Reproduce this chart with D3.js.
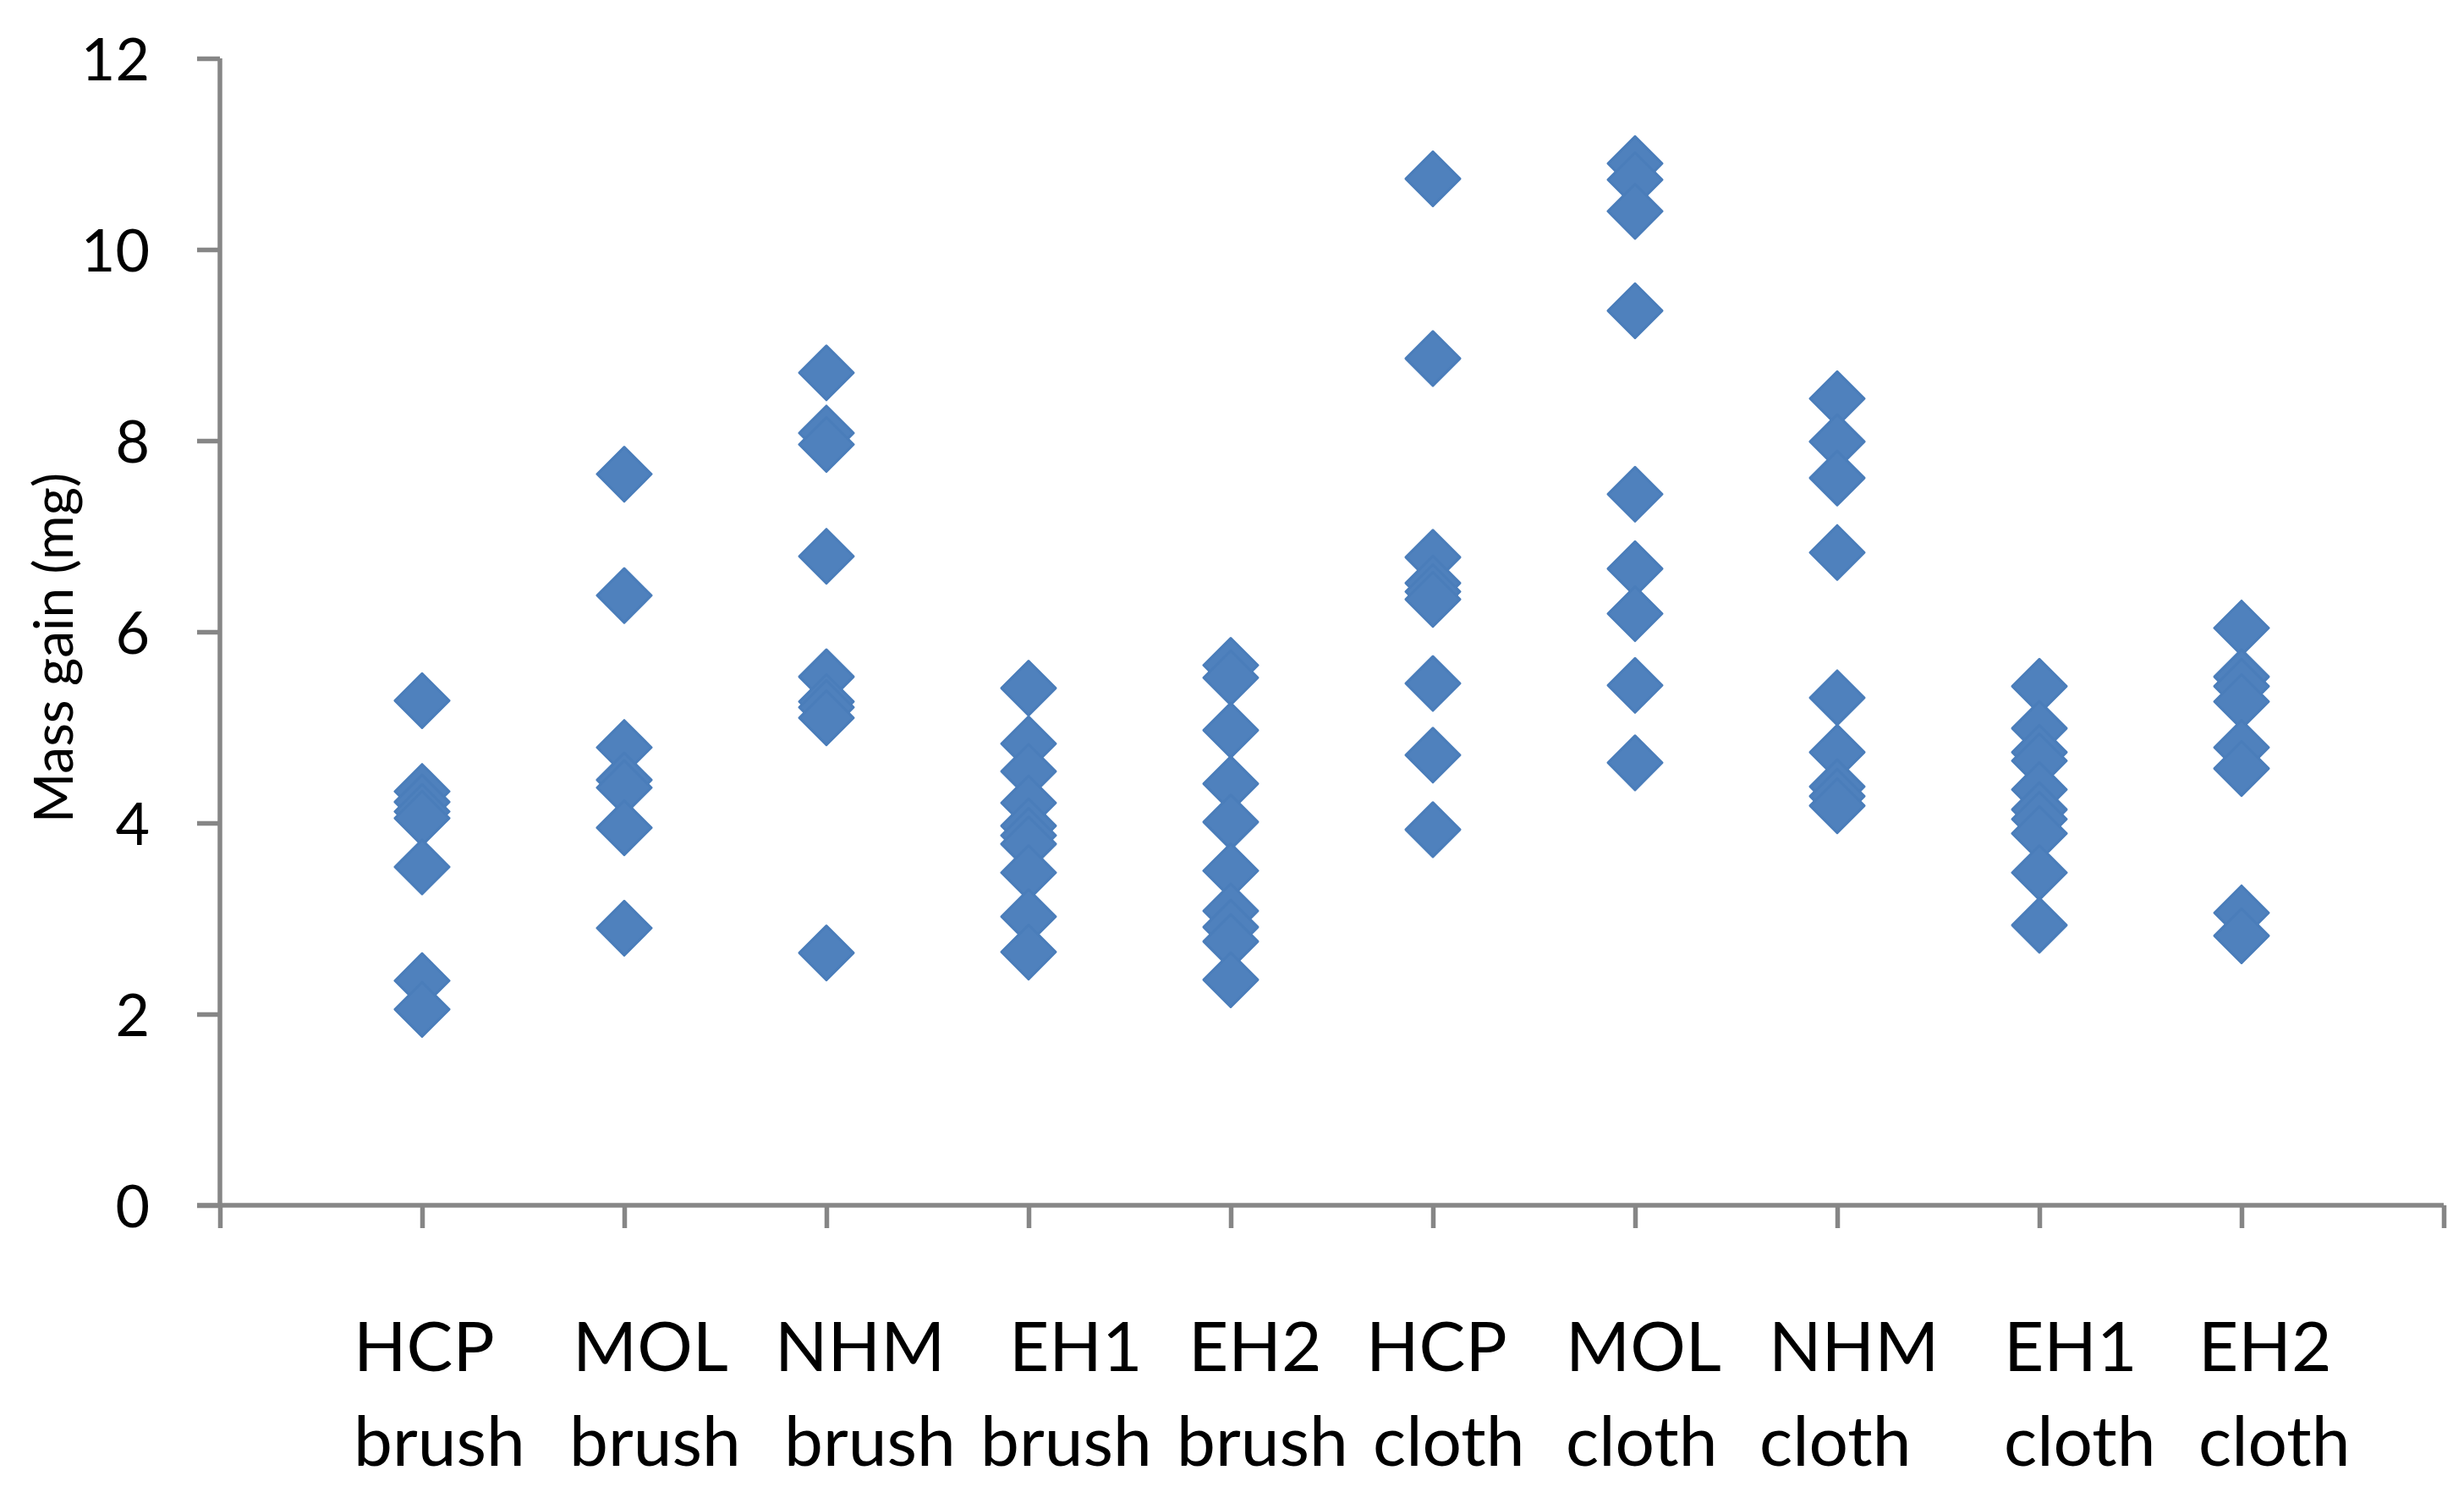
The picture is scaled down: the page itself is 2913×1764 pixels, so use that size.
<!DOCTYPE html>
<html>
<head>
<meta charset="utf-8">
<script src="https://cdn.jsdelivr.net/npm/d3@7"></script>
<style>
  html, body { margin: 0; padding: 0; background: #ffffff; }
  svg { display: block; }
</style>
</head>
<body>
<script>
// ---------------- DATA ----------------
const categoryTop    = ["HCP", "MOL", "NHM", "EH1", "EH2", "HCP", "MOL", "NHM", "EH1", "EH2"];
const categoryBottom = ["brush", "brush", "brush", "brush", "brush", "cloth", "cloth", "cloth", "cloth", "cloth"];

const hcpBrush = [5.28, 4.33, 4.22, 4.12, 4.05, 3.54, 2.35, 2.05];
const molBrush = [7.65, 6.38, 4.79, 4.45, 4.37, 3.95, 2.90];
const nhmBrush = [8.71, 8.08, 7.96, 6.79, 5.53, 5.27, 5.21, 5.10, 2.64];
const eh1Brush = [5.41, 4.83, 4.54, 4.21, 3.97, 3.87, 3.78, 3.48, 3.02, 2.65];
const eh2Brush = [5.65, 5.52, 4.97, 4.41, 4.01, 3.50, 3.08, 2.91, 2.76, 2.36];
const hcpCloth = [10.74, 8.86, 6.78, 6.51, 6.42, 6.34, 5.46, 4.71, 3.93];
const molCloth = [10.90, 10.73, 10.40, 9.36, 7.44, 6.66, 6.19, 5.44, 4.63];
const nhmCloth = [8.44, 7.99, 7.61, 6.83, 5.31, 4.74, 4.38, 4.28, 4.18];
const eh1Cloth = [5.43, 4.99, 4.74, 4.65, 4.35, 4.14, 4.04, 3.89, 3.48, 2.93];
const eh2Cloth = [6.04, 5.53, 5.43, 5.27, 4.79, 4.57, 3.06, 2.82];

const groups = [hcpBrush, molBrush, nhmBrush, eh1Brush, eh2Brush,
                hcpCloth, molCloth, nhmCloth, eh1Cloth, eh2Cloth];

const yTicks = [0, 2, 4, 6, 8, 10, 12];
const xTicks = [0, 1, 2, 3, 4, 5, 6, 7, 8, 9, 10, 11];
const yTitle = "Mass gain (mg)";

// ---------------- LAYOUT ----------------
const W = 2913, H = 1764;
const plot = { left: 260, right: 2889, top: 69, bottom: 1425 };
const axisColor = "#868686";
const axisWidth = 5.5;
const tickLen = 27;
const fontFamily = "Lato, 'Open Sans', 'Noto Sans', sans-serif";
// left edges of the category caption words (text box in the original)
const topLeft    = [418, 677, 916, 1193, 1405, 1615, 1851, 2091, 2369, 2599];
const bottomLeft = [418, 673, 927, 1159, 1391, 1623, 1851, 2080, 2369, 2599];

const svg = d3.select("body").append("svg")
  .attr("width", W).attr("height", H)
  .attr("viewBox", `0 0 ${W} ${H}`);

svg.append("rect").attr("width", W).attr("height", H).attr("fill", "#ffffff");

const x = d3.scaleLinear().domain([0, 11]).range([plot.left, plot.right]);
const y = d3.scaleLinear().domain([0, 12]).range([plot.bottom, plot.top]);

// Y axis
const yAxis = svg.append("g")
  .attr("transform", `translate(${plot.left},0)`)
  .call(d3.axisLeft(y).tickValues(yTicks).tickSize(tickLen).tickPadding(56).tickFormat(d3.format("d")));
yAxis.select(".domain").attr("stroke", axisColor).attr("stroke-width", axisWidth)
  .attr("d", `M0,${plot.top}V${plot.bottom}`);
yAxis.selectAll(".tick line").attr("stroke", axisColor).attr("stroke-width", axisWidth);
yAxis.selectAll(".tick text")
  .attr("fill", "#000").attr("font-family", fontFamily).attr("font-size", 70)
  .attr("dy", "0.36em");

// X axis
const xAxis = svg.append("g")
  .attr("transform", `translate(0,${plot.bottom})`)
  .call(d3.axisBottom(x).tickValues(xTicks).tickSize(tickLen).tickFormat(""));
xAxis.select(".domain").attr("stroke", axisColor).attr("stroke-width", axisWidth)
  .attr("d", `M${plot.left - tickLen},0H${plot.right}`);
xAxis.selectAll(".tick line").attr("stroke", axisColor).attr("stroke-width", axisWidth);

// Y axis title
svg.append("text")
  .attr("transform", `translate(86,766) rotate(-90)`)
  .attr("text-anchor", "middle")
  .attr("font-family", fontFamily)
  .attr("font-size", 64)
  .attr("fill", "#000")
  .text(yTitle);

// Points
const points = groups.flatMap((vals, i) => vals.map(v => ({ cx: i + 1, v })));
const diamond = d3.symbol().type(d3.symbolSquare).size(2050);
svg.append("g").selectAll("path")
  .data(points)
  .join("path")
  .attr("d", diamond)
  .attr("transform", d => `translate(${x(d.cx)},${y(d.v)}) rotate(45)`)
  .attr("fill", "#4F81BD")
  .attr("stroke", "#4A7DBA")
  .attr("stroke-width", 3)
  .attr("stroke-linejoin", "round");

// Category captions
const cap = svg.append("g")
  .attr("font-family", fontFamily)
  .attr("font-size", 82)
  .attr("fill", "#000");
cap.selectAll("text.top")
  .data(categoryTop)
  .join("text")
  .attr("class", "top")
  .attr("x", (d, i) => topLeft[i])
  .attr("y", 1621)
  .text(d => d);
cap.selectAll("text.bottom")
  .data(categoryBottom)
  .join("text")
  .attr("class", "bottom")
  .attr("x", (d, i) => bottomLeft[i])
  .attr("y", 1733)
  .text(d => d);
</script>
</body>
</html>
